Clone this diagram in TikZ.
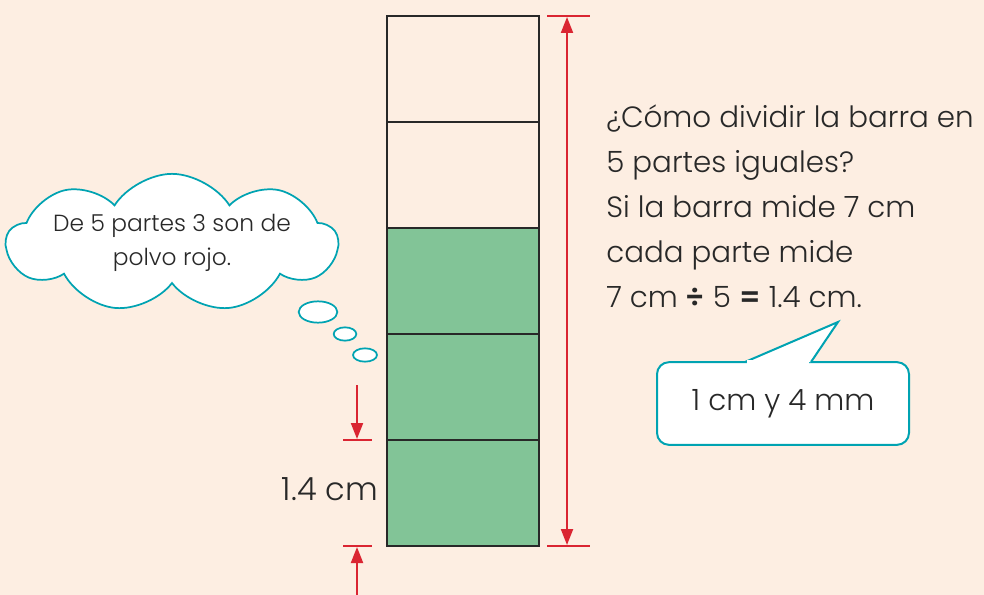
\documentclass[tikz,border=0pt]{standalone}
\usepackage{fontspec}
\setmainfont{Poppins}[UprightFont=* Light]
\usetikzlibrary{shapes.symbols,shapes.geometric,arrows.meta}
\definecolor{fondo}{RGB}{253,238,226}
\definecolor{verde}{RGB}{130,196,151}
\definecolor{rojo}{RGB}{218,37,50}
\definecolor{turquesa}{RGB}{0,163,178}
\definecolor{tinta}{RGB}{40,40,40}
\begin{document}
\begin{tikzpicture}[x=0.75pt,y=-0.75pt,
	celda/.style={draw=tinta,line width=2pt,minimum width=114pt,minimum height=79.5pt,inner sep=0pt},
	cota/.style={rojo,line width=1.5pt},
	flecha/.style={cota,-{Triangle[length=12pt,width=9pt]}},
	burbuja/.style={ellipse,draw=turquesa,line width=1.3pt,fill=white,inner sep=0pt},
	texto/.style={text=tinta,font=\fontsize{22}{33.75}\selectfont}]
	\useasboundingbox[fill=fondo] (0,0) rectangle (984,595);
	% barra en 5 partes
	\foreach \i/\col in {1/verde,2/verde,3/verde,4/fondo,5/fondo}
		\node[celda,fill=\col] (c\i) at (463,546-106*\i+53) {};
	% cota de la barra
	\coordinate (ra) at (547,16); \coordinate (rb) at (590,16);
	\coordinate (rc) at (547,546); \coordinate (rd) at (590,546);
	\coordinate (r1) at (567,17); \coordinate (r2) at (567,545);
	\draw[cota] (ra) -- (rb);
	\draw[cota] (rc) -- (rd);
	\draw[cota,{Triangle[length=12pt,width=9pt]}-{Triangle[length=12pt,width=9pt]}] (r1) -- (r2);
	% cota de una parte
	\coordinate (la) at (343,440); \coordinate (lb) at (372,440);
	\coordinate (lc) at (343,546); \coordinate (ld) at (372,546);
	\coordinate (l1) at (357,385); \coordinate (l2) at (357,439);
	\coordinate (l3) at (357,595); \coordinate (l4) at (357,547);
	\draw[cota] (la) -- (lb);
	\draw[cota] (lc) -- (ld);
	\draw[flecha] (l1) -- (l2);
	\draw[flecha] (l3) -- (l4);
	\node[texto,anchor=east,inner sep=0pt,font=\fontsize{24}{30}\selectfont] (parte) at (378,489) {1.4 cm};
	% texto de la derecha
	\node[texto,anchor=west,align=left,inner sep=0pt] (pregunta) at (606,206)
		{¿Cómo dividir la barra en\\5 partes iguales?\\Si la barra mide 7 cm\\cada parte mide\\7 cm \textbf{÷} 5 \textbf{=} 1.4 cm.};
	% nube
	\node[cloud,cloud puffs=9,cloud puff arc=115,cloud ignores aspect,draw=turquesa,line width=1.3pt,fill=white,
		inner sep=0pt,minimum width=240pt,minimum height=102pt,align=center,text=tinta,
		font=\fontsize{17.5}{25}\selectfont] (nube) at (172,243) {De 5 partes 3 son de\\polvo rojo.};
	\node[burbuja,minimum width=29pt,minimum height=16pt] (b1) at (318,312) {};
	\node[burbuja,minimum width=17pt,minimum height=10pt] (b2) at (345,334) {};
	\node[burbuja,minimum width=18pt,minimum height=10pt] (b3) at (365,355) {};
	% globo de respuesta
	\node[draw=turquesa,line width=1.5pt,fill=white,rounded corners=9pt,minimum width=189pt,minimum height=62pt,
		texto] (resp) at (783,403.5) {1 cm y 4 mm};
	\coordinate (punta) at (838,322);
	\coordinate (pa) at (745,362); \coordinate (pb) at (811,362);
	\filldraw[turquesa,fill=white,line width=1.5pt,line join=miter] (pa) -- (punta) -- (pb);
	\fill[white] (747,360.2) rectangle (809,364);
\end{tikzpicture}
\end{document}
